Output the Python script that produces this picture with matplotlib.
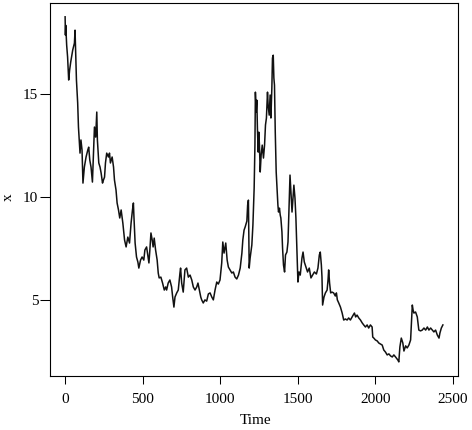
import matplotlib
matplotlib.use("Agg")
import matplotlib.pyplot as plt

# Time series (time index, value)
time = [
    1, 3, 5, 11, 17, 24, 30, 37, 50, 61, 65, 69, 74, 82, 87, 92, 97, 103, 110, 116,
    125, 136, 147, 153, 160, 168, 177, 183, 190, 198, 205, 209, 218, 226, 233, 242, 248, 255, 261, 269,
    280, 287, 293, 304, 313, 319, 329, 336, 345, 353, 362, 368, 373, 384, 394, 405, 416, 426, 435, 441,
    444, 452, 461, 470, 476, 487, 497, 508, 515, 526, 532, 541, 547, 554, 562, 568, 575, 584, 594, 601,
    607, 618, 629, 640, 649, 655, 665, 676, 687, 694, 702, 709, 720, 730, 741, 745, 752, 762, 773, 784,
    795, 806, 817, 827, 838, 849, 857, 866, 875, 881, 891, 902, 913, 924, 935, 946, 956, 967, 978, 988,
    999, 1010, 1017, 1025, 1036, 1045, 1053, 1064, 1075, 1085, 1096, 1107, 1118, 1129, 1140, 1146, 1154, 1161, 1172, 1177,
    1182, 1187, 1193, 1204, 1211, 1219, 1224, 1227, 1232, 1236, 1240, 1245, 1249, 1253, 1258, 1264, 1271, 1279, 1286, 1292,
    1298, 1305, 1309, 1316, 1322, 1327, 1333, 1337, 1342, 1346, 1350, 1355, 1361, 1366, 1372, 1376, 1382, 1387, 1391, 1398,
    1402, 1408, 1415, 1421, 1430, 1437, 1443, 1450, 1456, 1463, 1469, 1475, 1482, 1488, 1495, 1501, 1508, 1516, 1527, 1534,
    1542, 1553, 1563, 1574, 1585, 1596, 1607, 1620, 1630, 1639, 1645, 1652, 1656, 1660, 1669, 1678, 1689, 1695, 1699, 1705,
    1712, 1721, 1731, 1742, 1749, 1755, 1764, 1775, 1786, 1796, 1807, 1818, 1828, 1839, 1850, 1857, 1865, 1873, 1882, 1893,
    1904, 1915, 1925, 1936, 1947, 1957, 1968, 1979, 1983, 1990, 2000, 2012, 2022, 2033, 2044, 2054, 2065, 2076, 2087, 2098,
    2109, 2119, 2130, 2145, 2151, 2158, 2167, 2177, 2184, 2195, 2205, 2216, 2227, 2238, 2243, 2248, 2259, 2270, 2280, 2291,
    2302, 2313, 2324, 2335, 2345, 2356, 2367, 2377, 2388, 2399, 2410, 2416, 2425, 2435,
]
x = [
    18.78, 17.89, 18.37, 17.40, 16.82, 15.70, 16.18, 16.57, 17.16, 17.50, 18.13, 17.01, 15.70, 14.58, 13.41, 12.78, 12.14, 12.78, 12.29, 10.68,
    11.46, 11.95, 12.29, 12.43, 11.80, 11.46, 10.73, 11.95, 13.41, 12.92, 14.14, 12.78, 11.66, 11.46, 11.17, 10.68, 10.83, 10.97, 11.66, 12.14,
    11.95, 12.14, 11.66, 11.95, 11.46, 10.83, 10.34, 9.71, 9.37, 8.98, 9.37, 9.03, 8.73, 7.91, 7.57, 8.05, 7.76, 8.73, 9.37, 9.71,
    9.12, 7.76, 7.08, 6.83, 6.54, 6.93, 7.08, 6.93, 7.42, 7.57, 7.27, 6.79, 7.42, 8.25, 7.91, 7.57, 8.00, 7.42, 6.93, 6.30,
    6.06, 6.10, 5.81, 5.47, 5.62, 5.47, 5.81, 5.96, 5.62, 5.13, 4.64, 5.13, 5.33, 5.47, 6.30, 6.54, 5.81, 5.37, 6.45, 6.54,
    6.10, 6.20, 5.96, 5.62, 5.47, 5.62, 5.81, 5.47, 5.13, 4.99, 4.84, 4.99, 4.93, 5.28, 5.33, 5.13, 4.99, 5.47, 5.86, 5.76,
    5.96, 6.79, 7.81, 7.27, 7.76, 6.93, 6.59, 6.45, 6.30, 6.35, 6.10, 6.01, 6.20, 6.54, 7.27, 7.91, 8.39, 8.54, 8.83, 9.61,
    9.85, 6.54, 7.03, 7.66, 8.64, 10.44, 12.53, 15.11, 14.14, 14.72, 13.36, 12.19, 13.16, 12.53, 11.22, 12.05, 12.53, 11.90, 12.53, 13.51,
    13.85, 15.11, 14.48, 13.99, 14.97, 13.85, 15.31, 16.77, 16.91, 15.80, 15.45, 13.16, 11.22, 10.44, 9.61, 9.27, 9.46, 9.12, 8.98, 8.30,
    7.52, 6.69, 6.35, 7.18, 7.32, 7.81, 9.27, 11.07, 10.24, 9.27, 9.95, 10.58, 9.95, 8.98, 7.32, 5.86, 6.35, 6.20, 7.03, 7.32,
    6.84, 6.59, 6.35, 6.54, 6.06, 6.20, 6.35, 6.25, 6.54, 7.18, 7.32, 6.69, 6.10, 4.74, 5.13, 5.33, 5.47, 5.96, 6.45, 5.81,
    5.33, 5.37, 5.33, 5.18, 5.33, 4.99, 4.84, 4.64, 4.35, 4.01, 4.06, 4.01, 4.11, 4.01, 4.16, 4.25, 4.35, 4.16, 4.25, 4.11,
    4.01, 3.87, 3.77, 3.67, 3.77, 3.62, 3.77, 3.67, 3.18, 3.13, 3.04, 2.99, 2.89, 2.84, 2.79, 2.55, 2.45, 2.31, 2.36, 2.26,
    2.21, 2.31, 2.21, 2.06, 1.97, 2.70, 3.13, 2.89, 2.50, 2.75, 2.65, 2.79, 3.04, 4.74, 4.50, 4.35, 4.40, 4.16, 3.52, 3.48,
    3.52, 3.62, 3.52, 3.67, 3.52, 3.62, 3.52, 3.43, 3.52, 3.28, 3.13, 3.38, 3.62, 3.77,
]
x_ticks = [0, 500, 1000, 1500, 2000, 2500]
y_ticks = [5, 10, 15]

plt.rcParams["font.family"] = ["Liberation Serif", "DejaVu Serif"]

W, H = 472, 430
fig = plt.figure(figsize=(W / 100, H / 100), dpi=100)
ax = fig.add_axes([50 / W, 1 - 375.7 / H, 408 / W, 372.7 / H])

ax.plot(time, x, color="#111111", linewidth=1.1)

# R-style 4% padding around the data range
tr = time[-1] - time[0]
vr = max(x) - min(x)
ax.set_xlim(time[0] - 0.04 * tr, time[-1] + 0.04 * tr)
ax.set_ylim(min(x) - 0.04 * vr, max(x) + 0.04 * vr)

ax.set_xticks(x_ticks)
ax.set_yticks(y_ticks)
ax.tick_params(axis="x", direction="out", length=5.5, width=0.75, pad=7, labelsize=11)
ax.tick_params(axis="y", direction="out", length=7, width=0.75, pad=1.5, labelsize=11)
for s in ax.spines.values():
    s.set_linewidth(0.8)
    s.set_color("black")

fig.text(255.7 / W, 1 - 421 / H, "Time", ha="center", va="center", fontsize=11)
fig.text(8 / W, 1 - 197 / H, "x", ha="center", va="center", fontsize=11, rotation=90)

fig.savefig("out.png", dpi=100, facecolor="white")
